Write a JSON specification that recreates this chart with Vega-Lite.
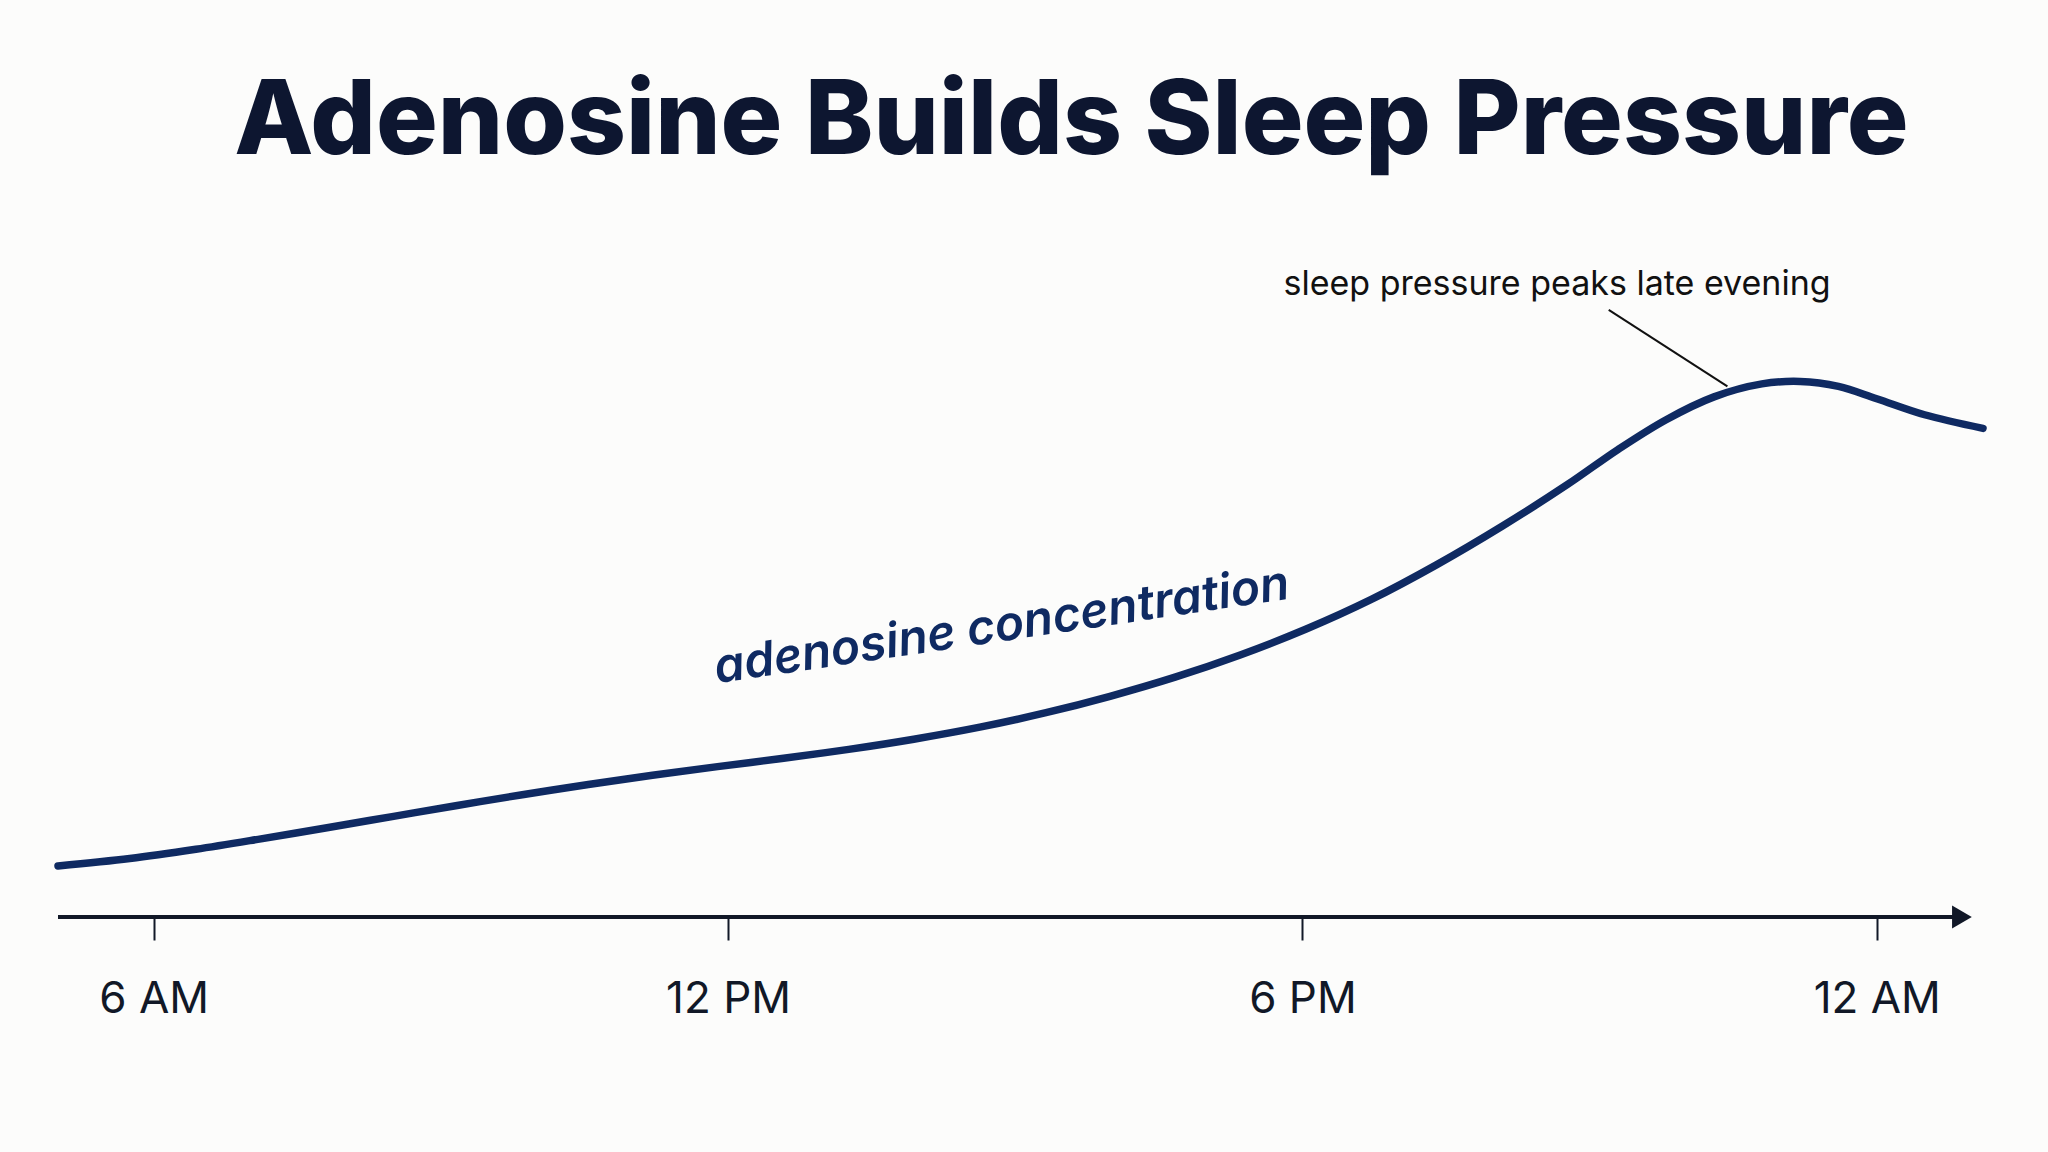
{
  "$schema": "https://vega.github.io/schema/vega-lite/v6.json",
  "width": 1925,
  "height": 617,
  "autosize": {"type": "none"},
  "padding": {"left": 58, "top": 300, "right": 65, "bottom": 235},
  "background": "#fcfcfb",
  "config": {"view": {"stroke": null}, "font": "Inter"},
  "title": {
    "text": "Adenosine Builds Sleep Pressure",
    "anchor": "middle",
    "dx": 51,
    "baseline": "alphabetic",
    "offset": 11,
    "fontSize": 103,
    "fontWeight": 800,
    "font": "Inter",
    "color": "#0d1630"
  },
  "datasets": {
    "curve": [
      {"hour": 5.0, "level": 8.27},
      {"hour": 5.75, "level": 9.47},
      {"hour": 6.44, "level": 10.97},
      {"hour": 7.12, "level": 12.67},
      {"hour": 7.81, "level": 14.47},
      {"hour": 8.49, "level": 16.27},
      {"hour": 9.17, "level": 18.07},
      {"hour": 9.85, "level": 19.82},
      {"hour": 10.54, "level": 21.47},
      {"hour": 11.21, "level": 22.97},
      {"hour": 11.89, "level": 24.37},
      {"hour": 12.58, "level": 25.72},
      {"hour": 13.26, "level": 27.17},
      {"hour": 13.94, "level": 28.82},
      {"hour": 14.63, "level": 30.77},
      {"hour": 15.31, "level": 33.07},
      {"hour": 15.99, "level": 35.77},
      {"hour": 16.67, "level": 38.87},
      {"hour": 17.35, "level": 42.47},
      {"hour": 18.04, "level": 46.67},
      {"hour": 18.72, "level": 51.47},
      {"hour": 19.4, "level": 57.07},
      {"hour": 20.09, "level": 63.37},
      {"hour": 20.77, "level": 70.1},
      {"hour": 21.3, "level": 75.8},
      {"hour": 21.8, "level": 80.6},
      {"hour": 22.3, "level": 84.3},
      {"hour": 22.8, "level": 86.4},
      {"hour": 23.2, "level": 86.8},
      {"hour": 23.6, "level": 86.0},
      {"hour": 24.0, "level": 84.0},
      {"hour": 24.5, "level": 81.4},
      {"hour": 25.11, "level": 79.2}
    ],
    "axisline": [{"start": 5.0, "end": 24.85, "level": 0}],
    "arrow": [{"hour": 24.89, "level": 0}],
    "leader": [{"h1": 21.2, "y1": 98.4, "h2": 22.44, "y2": 86.0}],
    "note": [{"hour": 20.66, "level": 102.4, "text": "sleep pressure peaks late evening"}],
    "serieslabel": [{"hour": 14.86, "level": 47.0, "text": "adenosine concentration"}]
  },
  "layer": [
    {
      "data": {"name": "axisline"},
      "mark": {"type": "rule", "strokeWidth": 4, "color": "#111827"},
      "encoding": {
        "x": {"field": "start", "type": "quantitative", "scale": {"domain": [5, 25.11], "nice": false, "zero": false},
          "axis": {"values": [6, 12, 18, 24], "domain": false, "grid": false, "title": null,
            "tickSize": 23, "tickWidth": 2, "tickColor": "#111827",
            "labelExpr": "datum.value == 6 ? '6 AM' : datum.value == 12 ? '12 PM' : datum.value == 18 ? '6 PM' : '12 AM'",
            "labelFontSize": 44, "labelFont": "Inter", "labelColor": "#111827", "labelBaseline": "alphabetic",
            "labelPadding": 72, "labelFlush": false, "labelOverlap": false}},
        "x2": {"field": "end"},
        "y": {"field": "level", "type": "quantitative", "scale": {"domain": [0, 100], "nice": false}, "axis": null}
      }
    },
    {
      "data": {"name": "arrow"},
      "mark": {"type": "point", "shape": "triangle-right", "filled": true, "size": 520, "color": "#111827", "opacity": 1},
      "encoding": {
        "x": {"field": "hour", "type": "quantitative"},
        "y": {"field": "level", "type": "quantitative"}
      }
    },
    {
      "data": {"name": "curve"},
      "mark": {"type": "line", "interpolate": "catmull-rom", "strokeWidth": 7.5, "color": "#0f2a62", "strokeCap": "round"},
      "encoding": {
        "x": {"field": "hour", "type": "quantitative"},
        "y": {"field": "level", "type": "quantitative"}
      }
    },
    {
      "data": {"name": "leader"},
      "mark": {"type": "rule", "strokeWidth": 2, "color": "#111111"},
      "encoding": {
        "x": {"field": "h1", "type": "quantitative"},
        "y": {"field": "y1", "type": "quantitative"},
        "x2": {"field": "h2"},
        "y2": {"field": "y2"}
      }
    },
    {
      "data": {"name": "note"},
      "mark": {"type": "text", "fontSize": 34, "font": "Inter", "color": "#111111", "align": "center", "baseline": "middle"},
      "encoding": {
        "x": {"field": "hour", "type": "quantitative"},
        "y": {"field": "level", "type": "quantitative"},
        "text": {"field": "text"}
      }
    },
    {
      "data": {"name": "serieslabel"},
      "mark": {"type": "text", "fontSize": 48, "font": "Inter", "fontStyle": "italic", "fontWeight": 600, "color": "#0f2a62", "align": "center", "baseline": "middle", "angle": 351.6},
      "encoding": {
        "x": {"field": "hour", "type": "quantitative"},
        "y": {"field": "level", "type": "quantitative"},
        "text": {"field": "text"}
      }
    }
  ]
}
